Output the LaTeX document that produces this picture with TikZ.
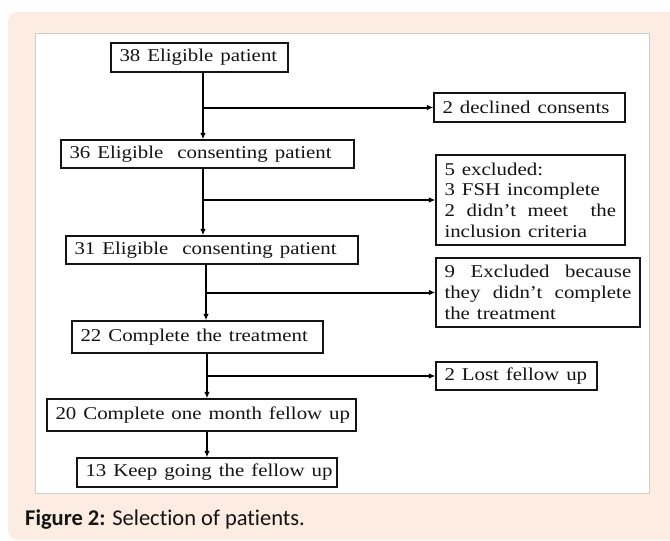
\documentclass[tikz,border=0pt]{standalone}
\usepackage{fontspec}
\setmainfont{Liberation Serif}
\newfontfamily\capfont[Ligatures={NoCommon}]{Carlito}
\usepackage{graphicx}
\usetikzlibrary{arrows.meta}
\definecolor{peach}{RGB}{252,236,225}
\definecolor{panelline}{RGB}{205,205,205}
\definecolor{ink}{RGB}{20,20,20}
\newcommand\hs[1]{\scalebox{1.16}[1]{#1}}
\newcommand\js[2]{\scalebox{1.16}[1]{\hbox to #1{#2}}}
\tikzset{
  box/.style={draw=ink, line width=1.3pt, fill=white, inner xsep=8.5pt, inner ysep=0pt,
    align=left, font=\fontsize{18pt}{20.7pt}\selectfont, text=ink},
  arr/.style={draw=black, line width=2pt, -{Latex[length=6.5pt,width=5.5pt]}},
  harr/.style={draw=black, line width=2pt, -{Latex[length=6.5pt,width=5.5pt]}},
}
\begin{document}
\begin{tikzpicture}[x=1pt,y=-1pt]
\useasboundingbox (0,0) rectangle (670,541);
\fill[white] (0,0) rectangle (670,541);
\fill[peach, rounded corners=10pt] (8,12) rectangle (690,540);
\draw[panelline, fill=white, line width=0.8pt] (35,33) rectangle (649,493);

\node[box, minimum width=177pt, minimum height=29pt, text width=160pt] (A) at (199.5,57.5) {\hs{38 Eligible patient}};
\node[box, minimum width=191pt, minimum height=29pt, text width=174pt] (D) at (529.5,107.5) {\hs{2 declined consents}};
\node[box, minimum width=293pt, minimum height=28pt, text width=276pt] (B) at (207.5,154) {\hs{36 Eligible\ \ consenting patient}};
\node[box, minimum width=189pt, minimum height=90pt, text width=172pt] (E5) at (530.5,200)
  {\hs{5 excluded:}\\ \hs{3 FSH incomplete}\\ \js{148pt}{2\hskip 0.3em plus 1fil didn't\hskip 0.3em plus 1fil meet\hskip 0.3em plus 3fil the}\\ \hs{inclusion criteria}};
\node[box, minimum width=292pt, minimum height=28pt, text width=275pt] (C) at (212,250) {\hs{31 Eligible\ \ consenting patient}};
\node[box, minimum width=204pt, minimum height=69pt, text width=187pt] (E9) at (538,292.5)
  {\js{161pt}{9\hfil Excluded\hfil because}\\ \js{161pt}{they\hfil didn't\hfil complete}\\ \hs{the treatment}};
\node[box, minimum width=251pt, minimum height=32pt, text width=234pt] (F) at (197.5,337) {\hs{22 Complete the treatment}};
\node[box, minimum width=161pt, minimum height=28pt, text width=144pt] (L) at (516.5,376) {\hs{2 Lost fellow up}};
\node[box, minimum width=309pt, minimum height=32pt, text width=292pt] (G) at (201.5,415) {\hs{20 Complete one month fellow up}};
\node[box, minimum width=260pt, minimum height=29pt, text width=243pt] (H) at (207,472.5) {\hs{13 Keep going the fellow up}};

\coordinate (t1) at (203,0);
\coordinate (t2) at (206,0);
\coordinate (t3) at (207,0);

\draw[arr] (A.south -| t1) -- (B.north -| t1);
\draw[arr] (B.south -| t1) -- (C.north -| t1);
\draw[arr] (C.south -| t2) -- (F.north -| t2);
\draw[arr] (F.south -| t3) -- (G.north -| t3);
\draw[arr] (G.south -| t3) -- (H.north -| t3);

\draw[harr] (t1 |- D.west) -- (D.west);
\draw[harr] (t1 |- E5.west) -- (E5.west);
\draw[harr] (t2 |- E9.west) -- (E9.west);
\draw[harr] (t3 |- L.west) -- (L.west);

\node[anchor=base west, inner sep=0pt, text=ink, font=\capfont\fontsize{22.5pt}{26pt}\selectfont] (cap) at (25,525)
  {\textbf{Figure 2:} Selection of patients.};
\end{tikzpicture}
\end{document}
